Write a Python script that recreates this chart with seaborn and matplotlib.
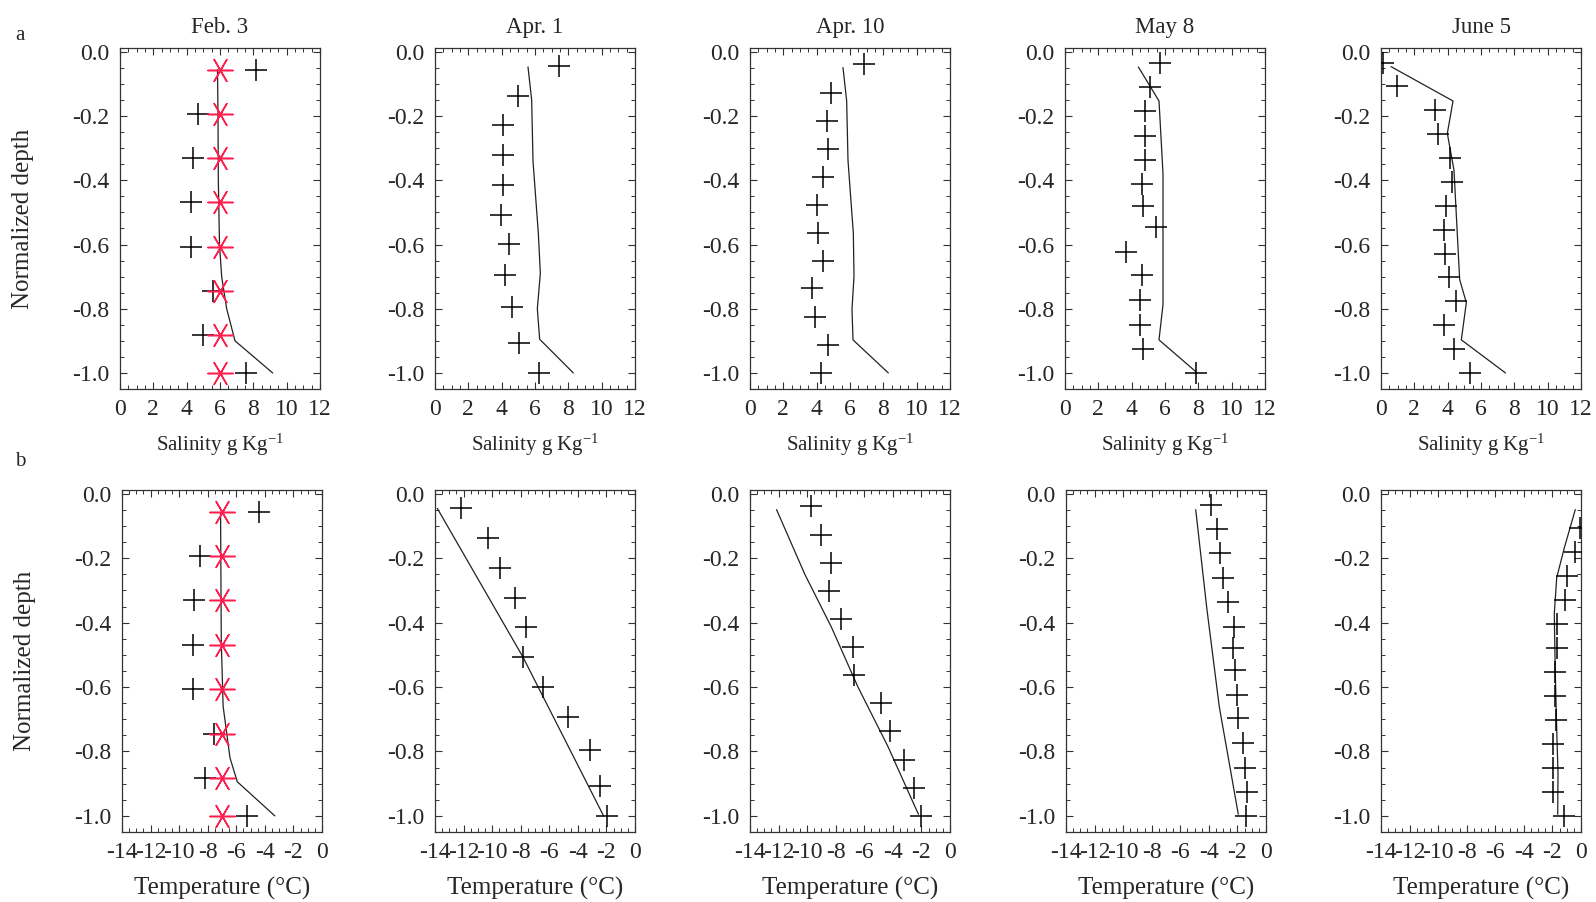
#!/usr/bin/env python3
"""
Normalized depth profiles of ice salinity (a) and temperature (b)
for five sampling dates, observed (+) vs modelled (line).
"""

import matplotlib
matplotlib.use("Agg")
import matplotlib.pyplot as plt
from matplotlib.ticker import MultipleLocator, FormatStrFormatter
import seaborn as sns

dates = ["Feb. 3", "Apr. 1", "Apr. 10", "May 8", "June 5"]

# Feb. 3 - observed (+), initial profile (red stars), model (line)
feb3_depth = [-0.055, -0.193, -0.331, -0.469, -0.607, -0.745, -0.883, -1.0]
sal_feb3_obs = [8.16, 4.66, 4.36, 4.24, 4.24, 5.56, 5.0, 7.56]
sal_feb3_star = [6.0, 6.0, 6.0, 6.0, 6.0, 6.0, 6.0, 6.0]
sal_feb3_model_depth = [-0.055, -0.2, -0.4, -0.6, -0.7, -0.8, -0.9, -1.0]
sal_feb3_model = [5.85, 5.88, 5.9, 5.97, 6.1, 6.4, 6.9, 9.16]
tmp_feb3_obs = [-4.44, -8.53, -8.93, -9.0, -9.0, -7.56, -8.19, -5.23]
tmp_feb3_star = [-7.0, -7.0, -7.0, -7.0, -7.0, -7.0, -7.0, -7.0]
tmp_feb3_model_depth = [-0.06, -0.46, -0.66, -0.82, -0.894, -1.0]
tmp_feb3_model = [-7.1, -7.05, -6.92, -6.44, -5.93, -3.3]

# Apr. 1
apr1_depth = [-0.043, -0.136, -0.229, -0.322, -0.414, -0.507, -0.599, -0.694, -0.796, -0.907, -1.0]
sal_apr1_obs = [7.44, 4.98, 4.08, 4.08, 4.08, 3.94, 4.44, 4.2, 4.64, 5.04, 6.24]
sal_apr1_model_depth = [-0.047, -0.15, -0.34, -0.565, -0.69, -0.8, -0.895, -1.0]
sal_apr1_model = [5.58, 5.8, 5.88, 6.2, 6.32, 6.14, 6.28, 8.3]
tmp_apr1_obs = [-12.21, -10.26, -9.42, -8.42, -7.6, -7.84, -6.44, -4.7, -3.12, -2.42, -1.95]
tmp_apr1_model_depth = [-0.045, -0.507, -1.0]
tmp_apr1_model = [-13.84, -7.84, -2.2]

# Apr. 10
apr10_depth = [-0.039, -0.128, -0.215, -0.302, -0.389, -0.476, -0.563, -0.65, -0.737, -0.825, -0.913, -1.0]
sal_apr10_obs = [6.84, 4.84, 4.6, 4.68, 4.4, 4.04, 4.1, 4.36, 3.74, 3.88, 4.68, 4.24]
sal_apr10_model_depth = [-0.049, -0.153, -0.338, -0.565, -0.699, -0.802, -0.897, -1.0]
sal_apr10_model = [5.58, 5.8, 5.88, 6.2, 6.24, 6.12, 6.18, 8.3]
tmp_apr10_obs = [-9.74, -9.05, -8.3, -8.49, -7.6, -6.81, -6.72, -4.86, -4.23, -3.23, -2.53, -2.02]
tmp_apr10_model_depth = [-0.049, -0.25, -0.414, -0.6, -0.784, -0.995]
tmp_apr10_model = [-12.14, -10.16, -8.3, -6.44, -4.35, -2.21]

# May 8
may8_depth = [-0.034, -0.108, -0.184, -0.261, -0.336, -0.413, -0.479, -0.546,
              -0.624, -0.696, -0.773, -0.85, -0.925, -1.0]
sal_may8_obs = [5.7, 5.08, 4.78, 4.78, 4.78, 4.6, 4.68, 5.44, 3.64, 4.64, 4.48, 4.48, 4.68, 7.84]
sal_may8_model_depth = [-0.047, -0.153, -0.379, -0.787, -0.897, -1.0]
sal_may8_model = [4.4, 5.64, 5.88, 5.88, 5.64, 7.94]
tmp_may8_obs = [-3.83, -3.41, -3.22, -2.99, -2.64, -2.24, -2.33, -2.17, -2.05, -1.98,
                -1.59, -1.47, -1.35, -1.4]
tmp_may8_model_depth = [-0.049, -0.353, -0.661, -0.995]
tmp_may8_model = [-4.92, -4.15, -3.27, -1.94]

# June 5
june5_depth = [-0.034, -0.107, -0.182, -0.256, -0.331, -0.405, -0.479, -0.554,
               -0.629, -0.701, -0.776, -0.852, -0.925, -1.0]
sal_june5_obs = [0.1, 0.96, 3.21, 3.41, 4.12, 4.26, 3.88, 3.78, 3.86, 4.06, 4.48, 3.76, 4.38, 5.32]
sal_june5_model_depth = [-0.046, -0.153, -0.254, -0.369, -0.709, -0.781, -0.897, -1.0]
sal_june5_model = [0.6, 4.32, 3.98, 4.38, 4.72, 5.12, 4.82, 7.47]
tmp_june5_depth = [-0.107, -0.182, -0.256, -0.331, -0.405, -0.479, -0.554,
                   -0.629, -0.701, -0.776, -0.852, -0.925, -1.0]
tmp_june5_obs = [-0.05, -0.44, -1.0, -1.12, -1.7, -1.7, -1.84, -1.84, -1.75, -1.98, -1.98, -1.98, -1.17]
tmp_june5_model_depth = [-0.049, -0.168, -0.26, -0.373, -0.558, -0.733, -0.866, -0.995]
tmp_june5_model = [-0.4, -1.17, -1.7, -1.87, -1.8, -1.7, -1.61, -1.63]

sal_panels = [
    (feb3_depth, sal_feb3_obs, sal_feb3_model_depth, sal_feb3_model),
    (apr1_depth, sal_apr1_obs, sal_apr1_model_depth, sal_apr1_model),
    (apr10_depth, sal_apr10_obs, sal_apr10_model_depth, sal_apr10_model),
    (may8_depth, sal_may8_obs, sal_may8_model_depth, sal_may8_model),
    (june5_depth, sal_june5_obs, sal_june5_model_depth, sal_june5_model),
]
tmp_panels = [
    (feb3_depth, tmp_feb3_obs, tmp_feb3_model_depth, tmp_feb3_model),
    (apr1_depth, tmp_apr1_obs, tmp_apr1_model_depth, tmp_apr1_model),
    (apr10_depth, tmp_apr10_obs, tmp_apr10_model_depth, tmp_apr10_model),
    (may8_depth, tmp_may8_obs, tmp_may8_model_depth, tmp_may8_model),
    (tmp_june5_depth, tmp_june5_obs, tmp_june5_model_depth, tmp_june5_model),
]

STAR = (6, 2, 90)
RED = "#ff1f4f"

sns.set_style("ticks")
plt.rcParams["font.family"] = ["Liberation Serif", "DejaVu Serif"]
plt.rcParams["mathtext.fontset"] = "custom"
plt.rcParams["mathtext.rm"] = "Liberation Serif"
plt.rcParams["mathtext.default"] = "regular"
plt.rcParams["axes.unicode_minus"] = False

W, H = 1596, 902
fig = plt.figure(figsize=(W / 100, H / 100), dpi=100)


def style_axis(ax, xlim, xstep):
    ax.set_xlim(*xlim)
    ax.set_ylim(-1.05, 0.012)
    ax.xaxis.set_major_locator(MultipleLocator(xstep))
    ax.xaxis.set_minor_locator(MultipleLocator(0.5))
    ax.yaxis.set_major_locator(MultipleLocator(0.2))
    ax.yaxis.set_minor_locator(MultipleLocator(0.05))
    ax.yaxis.set_major_formatter(FormatStrFormatter("%.1f"))
    ax.tick_params(which="both", direction="in", top=True, right=True,
                   labelsize=17, color="#333333")
    ax.tick_params(axis="x", which="major", pad=7)
    ax.tick_params(axis="y", which="major", pad=8)
    ax.tick_params(which="major", length=5, width=0.8)
    ax.tick_params(which="minor", length=3, width=0.7)
    for s in ax.spines.values():
        s.set_color("#333333")
        s.set_linewidth(0.9)


def draw_panel(ax, depth, obs, mdepth, model):
    sns.lineplot(x=model, y=mdepth, sort=False, estimator=None, color="#222222",
                 lw=0.9, ax=ax, zorder=2)
    sns.scatterplot(x=obs, y=depth, marker="+", s=230, color="black",
                    linewidth=1.1, ax=ax, zorder=3)


lefts_top = [120, 435, 750, 1065, 1381]
lefts_bot = [122, 435, 750, 1066, 1381]

for i in range(5):
    # salinity row
    ax = fig.add_axes([lefts_top[i] / W, 1 - 389 / H, 200 / W, 341 / H])
    draw_panel(ax, *sal_panels[i])
    if i == 0:
        sns.scatterplot(x=sal_feb3_star, y=feb3_depth, marker=STAR, s=330,
                        color=RED, linewidth=1.1, ax=ax, zorder=4)
    style_axis(ax, (0, 12), 2)
    ax.set_title(dates[i], fontsize=16.5, pad=11)
    ax.set_xlabel("Salinity g Kg$^{-1}$", fontsize=15)
    ax.xaxis.set_label_coords(0.5, -0.125)
    if i == 0:
        ax.set_ylabel("Normalized depth", fontsize=18)
        ax.yaxis.set_label_coords(-0.43, 0.5)
    else:
        ax.set_ylabel("")

    # temperature row
    ax = fig.add_axes([lefts_bot[i] / W, 1 - 832 / H, 200 / W, 342 / H])
    draw_panel(ax, *tmp_panels[i])
    if i == 0:
        sns.scatterplot(x=tmp_feb3_star, y=feb3_depth, marker=STAR, s=330,
                        color=RED, linewidth=1.1, ax=ax, zorder=4)
    style_axis(ax, (-14, 0), 2)
    ax.set_xlabel("Temperature (\u00b0C)", fontsize=18)
    ax.xaxis.set_label_coords(0.5, -0.13)
    if i == 0:
        ax.set_ylabel("Normalized depth", fontsize=18)
        ax.yaxis.set_label_coords(-0.43, 0.5)
    else:
        ax.set_ylabel("")

fig.text(20 / W, 1 - 36 / H, "a", fontsize=15, ha="center", va="center")
fig.text(20 / W, 1 - 462 / H, "b", fontsize=15, ha="center", va="center")

fig.savefig("out.png", dpi=100)
